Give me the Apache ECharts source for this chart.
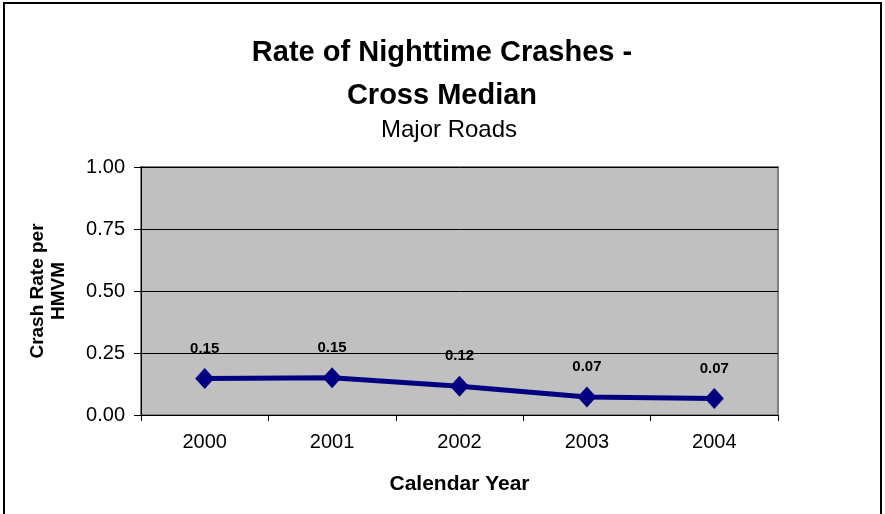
<!DOCTYPE html>
<html><head><meta charset="utf-8">
<script src="https://cdn.jsdelivr.net/npm/echarts@6/dist/echarts.min.js"></script>
<style>html,body{margin:0;padding:0;background:#fff}#c{width:885px;height:514px}</style>
</head><body><div id="c"></div>
<script>
const categories = ['2000','2001','2002','2003','2004'];
const crashRate = [0.147, 0.150, 0.116, 0.073, 0.067];
const yTicks = [0, 0.25, 0.5, 0.75, 1.0];
const titleLines = ['Rate of Nighttime Crashes -', 'Cross Median'];
const subtitle = 'Major Roads';

const chart = echarts.init(document.getElementById('c'));
const FF = '"Liberation Sans", Arial, sans-serif';
chart.setOption({
  animation: false,
  backgroundColor: '#fff',
  graphic: [{
    type: 'rect', shape: {x: 4, y: 3, width: 877, height: 520},
    style: {fill: 'none', stroke: '#000', lineWidth: 2}, silent: true
  }, {
    type: 'text', x: 442, y: 53,
    style: {text: titleLines[0], font: 'bold 29px ' + FF, fill: '#000', textAlign: 'center', textVerticalAlign: 'middle'}
  }, {
    type: 'text', x: 442, y: 96,
    style: {text: titleLines[1], font: 'bold 29px ' + FF, fill: '#000', textAlign: 'center', textVerticalAlign: 'middle'}
  }, {
    type: 'text', x: 449, y: 130,
    style: {text: subtitle, font: '24px ' + FF, fill: '#000', textAlign: 'center', textVerticalAlign: 'middle'}
  }],
  grid: {left: 141, right: 107, top: 167, bottom: 99, show: true, backgroundColor: '#C0C0C0', borderColor: '#808080', borderWidth: 2},
  xAxis: {
    type: 'category', data: categories, boundaryGap: true,
    name: 'Calendar Year', nameLocation: 'middle', nameGap: 59,
    nameTextStyle: {fontFamily: FF, fontWeight: 'bold', fontSize: 21, color: '#000'},
    axisLine: {lineStyle: {color: '#000', width: 1}},
    axisTick: {show: true, alignWithLabel: false, inside: false, length: 6, lineStyle: {color: '#000'}},
    axisLabel: {fontFamily: FF, fontSize: 20, color: '#000', margin: 17}
  },
  yAxis: {
    type: 'value', min: yTicks[0], max: yTicks[yTicks.length - 1], interval: 0.25,
    name: 'Crash Rate per\nHMVM', nameLocation: 'middle', nameGap: 72, nameRotate: 90,
    nameTextStyle: {fontFamily: FF, fontWeight: 'bold', fontSize: 19, color: '#000', lineHeight: 21},
    axisLine: {show: true, lineStyle: {color: '#000', width: 1}},
    axisTick: {show: true, length: 7, lineStyle: {color: '#000'}},
    axisLabel: {fontFamily: FF, fontSize: 20, color: '#000', margin: 16, formatter: v => v.toFixed(2)},
    splitLine: {show: true, lineStyle: {color: '#000', width: 1}}
  },
  series: [{
    type: 'line', data: crashRate,
    lineStyle: {color: '#000080', width: 5},
    itemStyle: {color: '#000080'},
    symbol: 'diamond', symbolSize: [19, 21],
    label: {show: true, position: 'top', distance: 12, fontFamily: FF, fontWeight: 'bold', fontSize: 15, color: '#000', formatter: p => p.value.toFixed(2)}
  }]
});
</script></body></html>
